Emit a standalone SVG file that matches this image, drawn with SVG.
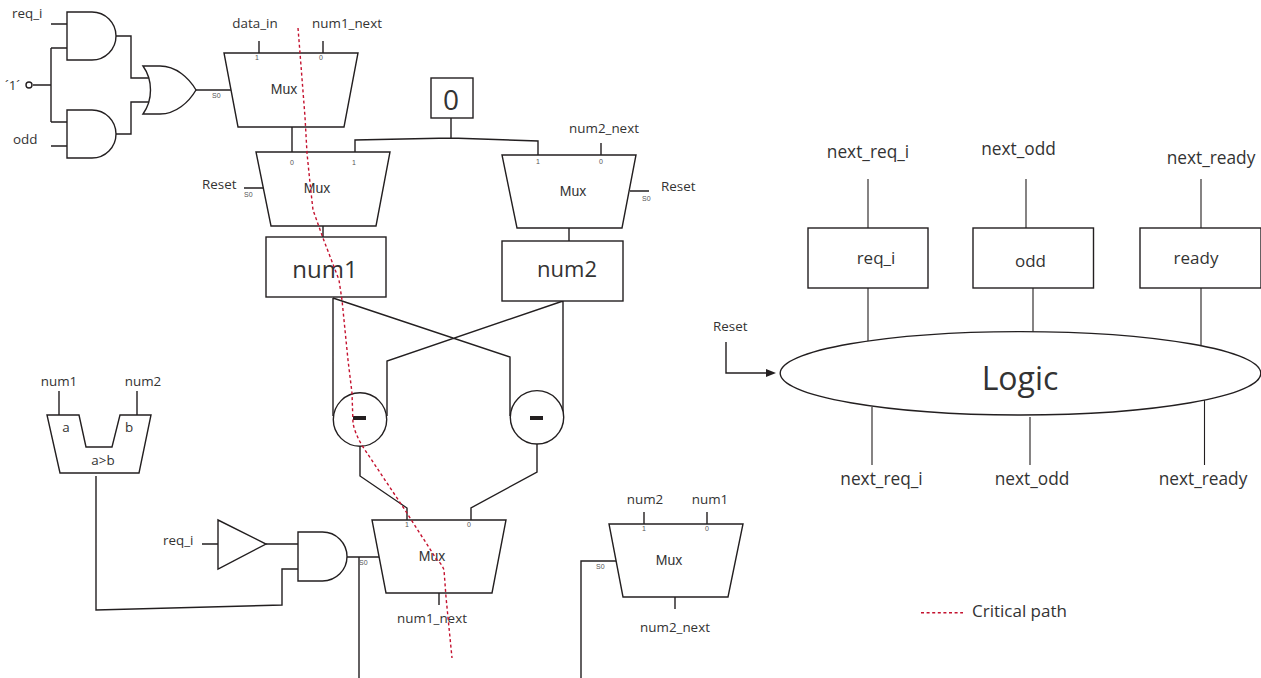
<svg xmlns="http://www.w3.org/2000/svg" width="1261" height="678" viewBox="0 0 1261 678">
<style>
text{font-family:"Open Sans","Noto Sans","Liberation Sans",sans-serif;fill:#333;font-size:13.400px}
.s{fill:none;stroke:#231f20;stroke-width:1.4}
.n{fill:none;stroke:#231f20;stroke-width:1.1}
.f{fill:#fff;stroke:#231f20;stroke-width:1.4}
.t{font-family:"Liberation Sans",sans-serif;font-size:7px;fill:#555}
.m{font-size:14px;text-anchor:middle;font-family:"Liberation Sans",sans-serif}
.c{text-anchor:middle}
.b{font-size:17.300px;text-anchor:middle}
.x{font-size:17px;text-anchor:middle}
.cp{fill:none;stroke:#c4122f;stroke-width:1.4;stroke-dasharray:3 2.6}
</style>
<g id="connectors">
<g class="s">
<path d="M51 24H67M51 48H67M51 48V122M33 85H51M51 122H67M51 146H67"/>
<path d="M116 36H131V78H149M116 134H131V102H149"/>
<path d="M196 90H232"/>
<path d="M259 41V53M323 41V53"/>
<path d="M292 127V152M355 152V140L451 138L538 141V155M451 118V138M601 143V155"/>
<path d="M244 188H264M630 191H649"/>
<path d="M323 226V237M569 228V241"/>
<path d="M333 298V416M333 298L510 357V416M387 416V361L563 301M563 301V416"/>
<path d="M360 446V476L407 508V520M537 444V472L471 508V520"/>
<path d="M59 391V415M137 391V415"/>
<path d="M96 476V610L282 605V569H298M202 544H218M266 544H298"/>
<path d="M347 557H379M359 557V678"/>
<path d="M439 592V605M644 512V524M707 512V524M675 597V609M581 678V561H616"/>
<path d="M726 342V373H768"/>
</g>
<path class="n" d="M868 179V228M1026 179V228M1201 179V228M868 288V341M1033 288V332M1201 288V345"/>
<path class="n" d="M872 407V465M1030 417V465M1204.500 400V465"/>
<path fill="#231f20" d="M776 373L766 369V377Z"/>
</g>
<g id="and1"><path class="f" d="M67 12H92A24 24 0 0 1 92 60H67Z"/><text x="12" y="18">req_i</text></g>
<g id="and2"><path class="f" d="M67 110H92A24 24 0 0 1 92 158H67Z"/><text x="13" y="144">odd</text></g>
<g id="one"><circle class="f" cx="29" cy="85" r="3"/><text x="5" y="90">´1´</text></g>
<g id="or1"><path class="f" d="M143 66H160C176 66 189 78 196 90C189 102 176 114 160 114H143C153 100 153 80 143 66Z"/></g>
<g id="mux1"><path class="f" d="M224 53H358L344 127H238Z"/><text class="m" x="284" y="94">Mux</text><text class="t" x="255" y="60">1</text><text class="t" x="319" y="60">0</text><text class="t" x="212" y="98">S0</text><text class="c" x="255" y="28">data_in</text><text class="c" x="347" y="28">num1_next</text></g>
<g id="zero"><rect class="f" x="431" y="78" width="42" height="40"/><text x="451" y="110" text-anchor="middle" style="font-size:28px">0</text></g>
<g id="mux2"><path class="f" d="M256 152H390L376 226H271Z"/><text class="m" x="317" y="193">Mux</text><text class="t" x="290" y="165">0</text><text class="t" x="352" y="165">1</text><text class="t" x="244" y="197">S0</text><text x="202" y="189">Reset</text></g>
<g id="mux3"><path class="f" d="M502 155H636L622 228H517Z"/><text class="m" x="573" y="196">Mux</text><text class="t" x="536" y="164">1</text><text class="t" x="599" y="164">0</text><text class="t" x="642" y="201">S0</text><text x="661" y="191">Reset</text><text class="c" x="604" y="133">num2_next</text></g>
<g id="num1"><rect class="f" x="266" y="237" width="120" height="60"/><text x="325" y="278" text-anchor="middle" style="font-size:24px">num1</text></g>
<g id="num2"><rect class="f" x="502" y="241" width="121" height="60"/><text x="567" y="277" text-anchor="middle" style="font-size:22px">num2</text></g>
<g id="sub1"><circle class="f" cx="360" cy="419.500" r="26.700"/><rect x="353" y="416" width="13" height="4" fill="#231f20"/></g>
<g id="sub2"><circle class="f" cx="537" cy="417.300" r="26.700"/><rect x="530" y="416" width="13" height="4" fill="#231f20"/></g>
<g id="cmp"><path class="f" d="M47 415H79L86 447H112L120 415H151L139 473H60Z"/><text x="66" y="432" class="c">a</text><text x="129" y="432" class="c">b</text><text x="103" y="465" class="c">a&gt;b</text><text x="59" y="386" class="c">num1</text><text x="143" y="386" class="c">num2</text></g>
<g id="buf"><path class="f" d="M218 520V569L266 544Z"/><text x="163" y="545">req_i</text></g>
<g id="and3"><path class="f" d="M298 532H322.500A24.500 24.500 0 0 1 322.500 581H298Z"/></g>
<g id="mux4"><path class="f" d="M372 520H506L492 593H386Z"/><text class="m" x="432" y="561">Mux</text><text class="t" x="405" y="527">1</text><text class="t" x="467" y="527">0</text><text class="t" x="359" y="565">S0</text><text class="c" x="432" y="623">num1_next</text></g>
<g id="mux5"><path class="f" d="M609 524H743L728 597H623Z"/><text class="m" x="669" y="565">Mux</text><text class="t" x="642" y="531">1</text><text class="t" x="705" y="531">0</text><text class="t" x="596" y="569">S0</text><text class="c" x="645" y="504">num2</text><text class="c" x="710" y="504">num1</text><text class="c" x="675" y="632">num2_next</text></g>
<g id="req"><rect class="f" x="808" y="228" width="120" height="60"/><text class="x" x="876" y="264">req_i</text><text class="b" x="868" y="158">next_req_i</text></g>
<g id="odd"><rect class="f" x="973" y="228" width="120.500" height="60"/><text class="x" x="1030.500" y="266.500">odd</text><text class="b" x="1018.500" y="155">next_odd</text></g>
<g id="ready"><rect class="f" x="1140" y="228" width="121" height="60"/><text class="x" x="1196" y="264">ready</text><text class="b" x="1211" y="164">next_ready</text></g>
<g id="logic"><ellipse class="f" cx="1020.500" cy="373.300" rx="240.300" ry="41.700"/><text x="1020" y="390" text-anchor="middle" style="font-size:32px">Logic</text><text x="713" y="331">Reset</text><text class="b" x="881.500" y="485">next_req_i</text><text class="b" x="1032" y="485">next_odd</text><text class="b" x="1203" y="485">next_ready</text></g>
<path class="cp" d="M298 28L300 53L305 117L307 153L310 183L313 210L323 238L339 280L342 300L348 360L352 393L353 423Q355 434 363 447L403 507L437 560Q442 564 444 570L446 597L452 658"/>
<g id="legend"><path class="cp" d="M921 612.700H963"/><text x="972" y="617" style="font-size:17px">Critical path</text></g>
</svg>
